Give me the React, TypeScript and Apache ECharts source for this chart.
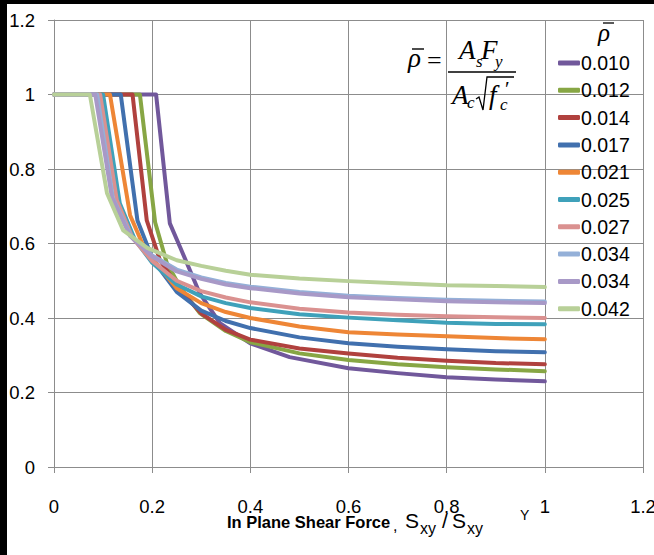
import React, { useEffect, useRef } from "react";
import * as echarts from "echarts";

// ---- data ----
const legendLabels = ["0.010", "0.012", "0.014", "0.017", "0.021", "0.025", "0.027", "0.034", "0.034", "0.042"];
const colors = ["#71589B", "#87A644", "#B0413E", "#4170AE", "#EE8636", "#3FA1BA", "#DA9190", "#94B0D8", "#A899C7", "#B8D098"];

const s010 = [[0, 1], [0.208, 1], [0.236, 0.654], [0.257, 0.59], [0.297, 0.466], [0.338, 0.386], [0.4, 0.332], [0.48, 0.295], [0.6, 0.265], [0.7, 0.252], [0.8, 0.241], [0.9, 0.235], [1, 0.23]];
const s012 = [[0, 1], [0.175, 1], [0.206, 0.657], [0.23, 0.547], [0.257, 0.483], [0.297, 0.413], [0.35, 0.365], [0.4, 0.335], [0.5, 0.305], [0.6, 0.287], [0.7, 0.276], [0.8, 0.268], [0.9, 0.262], [1, 0.257]];
const s014 = [[0, 1], [0.16, 1], [0.189, 0.662], [0.216, 0.555], [0.257, 0.475], [0.3, 0.412], [0.35, 0.368], [0.4, 0.342], [0.5, 0.318], [0.6, 0.305], [0.7, 0.293], [0.8, 0.285], [0.9, 0.279], [1, 0.276]];
const s017 = [[0, 1], [0.136, 1], [0.17, 0.662], [0.202, 0.555], [0.25, 0.47], [0.3, 0.42], [0.35, 0.392], [0.4, 0.373], [0.5, 0.348], [0.6, 0.332], [0.7, 0.323], [0.8, 0.316], [0.9, 0.311], [1, 0.308]];
const s021 = [[0, 1], [0.114, 1], [0.155, 0.676], [0.18, 0.6], [0.2, 0.56], [0.25, 0.48], [0.3, 0.44], [0.35, 0.416], [0.4, 0.4], [0.5, 0.377], [0.6, 0.362], [0.7, 0.356], [0.8, 0.351], [0.9, 0.346], [1, 0.343]];
const s025 = [[0, 1], [0.1, 1], [0.134, 0.708], [0.165, 0.61], [0.2, 0.548], [0.25, 0.49], [0.3, 0.458], [0.35, 0.44], [0.4, 0.427], [0.5, 0.41], [0.6, 0.401], [0.7, 0.394], [0.8, 0.387], [0.9, 0.384], [1, 0.383]];
const s027 = [[0, 1], [0.094, 1], [0.128, 0.716], [0.16, 0.615], [0.2, 0.553], [0.25, 0.5], [0.3, 0.472], [0.35, 0.455], [0.4, 0.442], [0.5, 0.425], [0.6, 0.415], [0.7, 0.409], [0.8, 0.405], [0.9, 0.402], [1, 0.4]];
const s034a = [[0, 1], [0.088, 1], [0.12, 0.722], [0.157, 0.62], [0.2, 0.568], [0.25, 0.53], [0.3, 0.509], [0.35, 0.494], [0.4, 0.484], [0.5, 0.47], [0.6, 0.46], [0.7, 0.454], [0.8, 0.449], [0.9, 0.446], [1, 0.444]];
const s034b = [[0, 1], [0.084, 1], [0.118, 0.724], [0.155, 0.62], [0.2, 0.565], [0.25, 0.525], [0.3, 0.505], [0.35, 0.49], [0.4, 0.48], [0.5, 0.466], [0.6, 0.456], [0.7, 0.45], [0.8, 0.445], [0.9, 0.442], [1, 0.44]];
const s042 = [[0, 1], [0.073, 1], [0.108, 0.735], [0.141, 0.635], [0.19, 0.588], [0.25, 0.555], [0.3, 0.54], [0.35, 0.527], [0.4, 0.516], [0.5, 0.506], [0.6, 0.499], [0.7, 0.493], [0.8, 0.488], [0.9, 0.486], [1, 0.483]];
const seriesData = [s010, s012, s014, s017, s021, s025, s027, s034a, s034b, s042];

const SANS = "'Liberation Sans', Arial, sans-serif";
const SERIF = "'Liberation Serif', 'Times New Roman', serif";
const GRID = "#8C8C8C";

function txt(text: string, x: number, y: number, font: string, align: string = "left") {
  return {
    type: "text",
    x,
    y,
    z: 50,
    style: { text, font, fill: "#000", align, verticalAlign: "middle" },
  };
}

export default function App() {
  const ref = useRef<HTMLDivElement>(null);
  useEffect(() => {
    if (!ref.current) return;
    const chart = echarts.init(ref.current, undefined, { renderer: "svg" });
    const axisCommon = {
      type: "value",
      min: 0,
      max: 1.2,
      interval: 0.2,
      axisLine: { show: true, lineStyle: { color: GRID, width: 1 } },
      axisTick: { show: true, length: 6, lineStyle: { color: GRID, width: 1 } },
      splitLine: { show: true, lineStyle: { color: GRID, width: 1 } },
    };
    chart.setOption({
      animation: false,
      backgroundColor: "#fff",
      grid: { left: 54, right: 11, top: 20, bottom: 88, containLabel: false, outerBoundsMode: "none" },
      xAxis: {
        ...axisCommon,
        axisLabel: { fontSize: 18.5, fontFamily: SANS, color: "#000", margin: 30, hideOverlap: false },
      },
      yAxis: {
        ...axisCommon,
        axisLabel: { fontSize: 18.5, fontFamily: SANS, color: "#000", margin: 19 },
      },
      legend: {
        orient: "vertical",
        left: 553,
        top: 48,
        icon: "roundRect",
        itemWidth: 22,
        itemHeight: 5,
        itemGap: 7.3,
        textStyle: { fontSize: 19.5, fontFamily: SANS, color: "#000", lineHeight: 20, padding: [0, 0, 0, -4] },
        data: legendLabels.map((l, i) => ({ name: i === 7 ? l + " " : l })),
      },
      series: seriesData.map((d, i) => ({
        type: "line",
        name: i === 7 ? legendLabels[i] + " " : legendLabels[i],
        data: d,
        symbol: "none",
        color: colors[i],
        lineStyle: { width: 4, color: colors[i], cap: "round", join: "round" },
        z: 2 + i,
      })),
      graphic: [
        { type: "rect", z: 100, shape: { x: 0, y: 0, width: 7, height: 555 }, style: { fill: "#000" } },
        { type: "rect", z: 100, shape: { x: 0, y: 0, width: 654, height: 4 }, style: { fill: "#000" } },
        // formula
        txt("ρ", 408, 58, `italic 27px ${SERIF}`),
        { type: "line", z: 50, shape: { x1: 412, y1: 49, x2: 424, y2: 49 }, style: { stroke: "#000", lineWidth: 1.4 } },
        txt("=", 427, 60, `26px ${SERIF}`),
        { type: "line", z: 50, shape: { x1: 448, y1: 72, x2: 516, y2: 72 }, style: { stroke: "#000", lineWidth: 1.4 } },
        txt("A", 459, 50, `italic 27px ${SERIF}`),
        txt("s", 476, 61, `italic 17px ${SERIF}`),
        txt("F", 481, 50, `italic 27px ${SERIF}`),
        txt("y", 495, 61, `italic 17px ${SERIF}`),
        txt("A", 452, 95, `italic 27px ${SERIF}`),
        txt("c", 467, 102, `italic 17px ${SERIF}`),
        {
          type: "polyline",
          z: 50,
          shape: { points: [[476, 99], [479, 97], [483, 110], [487, 77], [514, 77]] },
          style: { stroke: "#000", lineWidth: 1.3, fill: null },
        },
        txt("f", 489, 95, `italic 27px ${SERIF}`),
        txt("′", 505, 89, `21px ${SERIF}`),
        txt("c", 500, 104, `italic 17px ${SERIF}`),
        // legend title
        txt("ρ", 598, 32, `italic 25px ${SERIF}`),
        { type: "line", z: 50, shape: { x1: 603, y1: 23, x2: 614, y2: 23 }, style: { stroke: "#000", lineWidth: 1.3 } },
        // x axis title
        txt("In Plane Shear Force", 227, 522, `bold 16.5px ${SANS}`),
        txt(",", 393, 525, `16px ${SANS}`),
        txt("S", 405, 520, `21px ${SANS}`),
        txt("xy", 420, 528, `16px ${SANS}`),
        txt("/", 442, 520, `21px ${SANS}`),
        txt("S", 452, 520, `21px ${SANS}`),
        txt("xy", 467, 528, `16px ${SANS}`),
        txt("Y", 520, 515, `14px ${SANS}`),
      ],
    });
    return () => chart.dispose();
  }, []);
  return <div ref={ref} style={{ position: "fixed", left: 0, top: 0, width: 654, height: 555 }} />;
}
